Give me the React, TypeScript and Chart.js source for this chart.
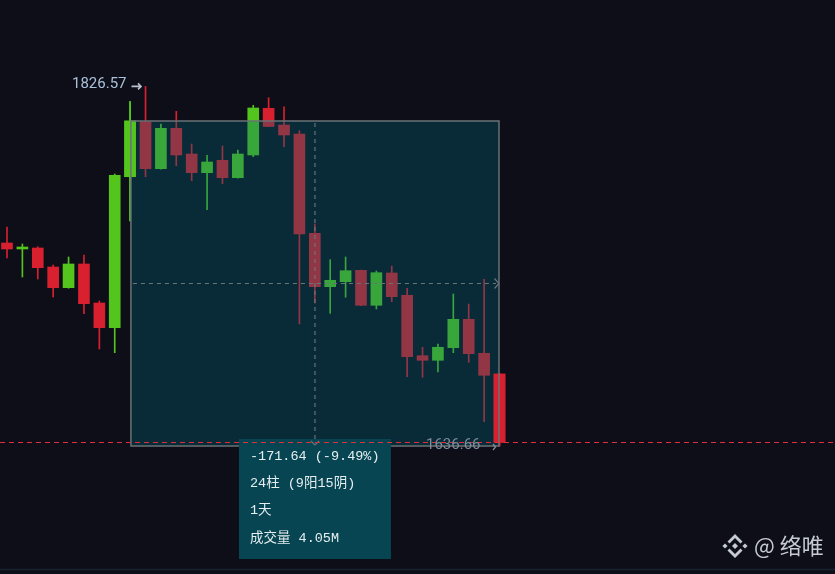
import React, { useEffect, useRef } from "react";
import { Chart, registerables } from "chart.js";

Chart.register(...registerables);

// OHLC values (daily candles)
const opens = [1743.87, 1740.7, 1741.23, 1731.19, 1720.26, 1732.78, 1712.18, 1699.14, 1778.88, 1807.93, 1783.11, 1804.44, 1790.87, 1781.0, 1787.54, 1778.36, 1790.34, 1815.01, 1806.19, 1801.43, 1748.99, 1720.79, 1723.43, 1729.45, 1710.97, 1728.03, 1716.25, 1684.35, 1681.92, 1688.58, 1703.57, 1685.62, 1674.69];
const highs = [1752.32, 1743.34, 1741.92, 1732.25, 1736.48, 1737.53, 1713.24, 1780.31, 1818.6, 1826.57, 1806.72, 1813.42, 1796.15, 1790.19, 1795.1, 1792.98, 1816.59, 1820.61, 1815.8, 1803.18, 1753.9, 1735.05, 1736.48, 1729.6, 1729.08, 1731.72, 1719.95, 1688.79, 1690.53, 1716.94, 1711.65, 1724.7, 1674.9];
const lows = [1735.95, 1725.91, 1724.86, 1715.35, 1720.0, 1706.53, 1687.89, 1685.93, 1755.49, 1778.88, 1782.9, 1784.69, 1776.77, 1761.46, 1775.19, 1778.1, 1789.45, 1805.3, 1794.73, 1701.09, 1712.18, 1706.74, 1715.19, 1710.8, 1709.01, 1712.87, 1673.26, 1672.94, 1675.74, 1685.93, 1680.86, 1649.49, 1636.66];
const closes = [1740.7, 1741.76, 1730.83, 1720.26, 1732.78, 1711.81, 1699.14, 1779.62, 1808.3, 1783.11, 1804.44, 1790.34, 1781.0, 1786.65, 1778.36, 1790.87, 1815.17, 1805.4, 1800.91, 1748.62, 1720.79, 1724.17, 1729.24, 1710.97, 1728.18, 1715.51, 1683.82, 1681.92, 1688.79, 1703.57, 1685.41, 1674.0, 1638.51];

// measurement (price range tool)
const measureStartIndex = 8;
const measureEndIndex = 32;
const measureTop = 1808.3;
const measureBottom = 1636.66;
const highestLabel = "1826.57";
const lowestLabel = "1636.66";
const tooltipLines = ["-171.64 (-9.49%)", "24柱 (9阳15阴)", "1天", "成交量 4.05M"];
const watermarkText = "@ 络唯";

// visible ranges
const xMin = -0.4548;
const xMax = 53.8;
const yMin = 1569.06;
const yMax = 1872.2;

const UP = "#53c51d";
const DOWN = "#d8202f";
const BG = "#0e0e19";

export default function App() {
  const ref = useRef<HTMLCanvasElement | null>(null);

  useEffect(() => {
    if (!ref.current) return;
    const colors = opens.map((o, i) => (closes[i] >= o ? UP : DOWN));

    const overlay = {
      id: "overlay",
      beforeDraw(chart: any) {
        const ctx = chart.ctx;
        ctx.save();
        ctx.fillStyle = BG;
        ctx.fillRect(0, 0, chart.width, chart.height);
        ctx.restore();
      },
      afterDatasetsDraw(chart: any) {
        const ctx = chart.ctx;
        const xs = chart.scales.x;
        const ys = chart.scales.y;
        const x0 = xs.getPixelForValue(measureStartIndex) + 0.8;
        const x1 = xs.getPixelForValue(measureEndIndex) - 0.5;
        const yt = ys.getPixelForValue(measureTop);
        const yb = ys.getPixelForValue(measureBottom);
        const xm = (x0 + x1) / 2;
        const ym = (yt + yb) / 2;
        ctx.save();
        // translucent box
        ctx.fillStyle = "rgba(0,103,121,0.32)";
        ctx.fillRect(x0, yt, x1 - x0, yb - yt);
        // endpoint candles drawn bright again
        for (const di of [1, 0]) {
          const meta = chart.getDatasetMeta(di);
          for (const idx of [measureStartIndex, measureEndIndex]) {
            const el = meta.data[idx];
            if (el) el.draw(ctx);
          }
        }
        // box border
        ctx.strokeStyle = "#6a7276";
        ctx.lineWidth = 1.5;
        ctx.strokeRect(x0, yt, x1 - x0, yb - yt);
        // dashed middle lines
        ctx.strokeStyle = "#6a7378";
        ctx.lineWidth = 1.2;
        ctx.setLineDash([4, 4]);
        ctx.beginPath();
        ctx.moveTo(x0 + 2, ym);
        ctx.lineTo(x1 - 3, ym);
        ctx.moveTo(xm, yt + 2);
        ctx.lineTo(xm, yb - 2);
        ctx.stroke();
        ctx.setLineDash([]);
        ctx.beginPath();
        ctx.moveTo(x1 - 4.5, ym - 5);
        ctx.lineTo(x1, ym);
        ctx.lineTo(x1 - 4.5, ym + 5);
        ctx.stroke();

        // tooltip panel
        const tw = 152;
        const tx = xm - 76;
        const ty = yb - 7;
        ctx.fillStyle = "#064551";
        ctx.fillRect(tx, ty, tw, 120);
        ctx.fillStyle = "#e6eef0";
        ctx.font = '13.5px "Liberation Mono", "Noto Sans CJK SC", monospace';
        ctx.textBaseline = "middle";
        ctx.textAlign = "left";
        tooltipLines.forEach((t, i) => {
          ctx.fillText(t, tx + 11, ty + 17 + i * 27.4);
        });

        // vertical arrow head
        ctx.strokeStyle = "#6a7378";
        ctx.lineWidth = 1.2;
        ctx.beginPath();
        ctx.moveTo(xm - 4, yb - 5);
        ctx.lineTo(xm, yb - 1);
        ctx.lineTo(xm + 4, yb - 5);
        ctx.stroke();

        // current price line
        const yc = ys.getPixelForValue(closes[closes.length - 1]);
        ctx.strokeStyle = "#e3303c";
        ctx.lineWidth = 1;
        ctx.setLineDash([5, 4]);
        ctx.beginPath();
        ctx.moveTo(0, yc);
        ctx.lineTo(chart.width, yc);
        ctx.stroke();
        ctx.setLineDash([]);

        // highest label
        const hi = Math.max(...highs);
        const hiIdx = highs.indexOf(hi);
        const yh = ys.getPixelForValue(hi);
        const xh = xs.getPixelForValue(hiIdx);
        ctx.font = '15px Roboto, "Noto Sans", sans-serif';
        ctx.fillStyle = "#a9c1d9";
        ctx.textAlign = "right";
        ctx.fillText(highestLabel, xh - 19, yh - 2);
        ctx.strokeStyle = "#b8c2cc";
        ctx.lineWidth = 1.6;
        ctx.beginPath();
        ctx.moveTo(xh - 14, yh);
        ctx.lineTo(xh - 4.5, yh);
        ctx.moveTo(xh - 7.5, yh - 3);
        ctx.lineTo(xh - 4.5, yh);
        ctx.lineTo(xh - 7.5, yh + 3);
        ctx.stroke();

        // lowest label
        const lo = Math.min(...lows);
        const loIdx = lows.indexOf(lo);
        const yl = ys.getPixelForValue(lo);
        const xl = xs.getPixelForValue(loIdx);
        ctx.fillStyle = "#7d8c9b";
        ctx.fillText(lowestLabel, xl - 19, yl - 1);
        ctx.strokeStyle = "#7d8c9b";
        ctx.lineWidth = 1.3;
        ctx.beginPath();
        ctx.moveTo(xl - 6.5, yl - 2);
        ctx.lineTo(xl - 4, yl + 1);
        ctx.lineTo(xl - 6.5, yl + 4);
        ctx.stroke();

        // bottom border line
        ctx.strokeStyle = "#1b2030";
        ctx.lineWidth = 1.5;
        ctx.beginPath();
        ctx.moveTo(0, chart.height - 4.5);
        ctx.lineTo(chart.width, chart.height - 4.5);
        ctx.stroke();

        // watermark logo
        const cx = 735;
        const cy = 546;
        ctx.fillStyle = "#c6cad1";
        const diamond = (x: number, y: number, r: number) => {
          ctx.beginPath();
          ctx.moveTo(x, y - r);
          ctx.lineTo(x + r, y);
          ctx.lineTo(x, y + r);
          ctx.lineTo(x - r, y);
          ctx.closePath();
          ctx.fill();
        };
        diamond(cx, cy, 3);
        diamond(cx - 10, cy, 2.6);
        diamond(cx + 10, cy, 2.6);
        for (const s of [-1, 1]) {
          ctx.beginPath();
          ctx.moveTo(cx - 7.5, cy + s * 4.5);
          ctx.lineTo(cx, cy + s * 12);
          ctx.lineTo(cx + 7.5, cy + s * 4.5);
          ctx.lineTo(cx + 5.5, cy + s * 2.5);
          ctx.lineTo(cx, cy + s * 8);
          ctx.lineTo(cx - 5.5, cy + s * 2.5);
          ctx.closePath();
          ctx.fill();
        }
        ctx.font = '22px "Noto Sans CJK SC", "Noto Sans", sans-serif';
        ctx.textAlign = "left";
        ctx.textBaseline = "middle";
        ctx.fillText(watermarkText, 754, cy);
        ctx.restore();
      },
    };

    const chart = new Chart(ref.current, {
      type: "bar",
      data: {
        datasets: [
          {
            label: "body",
            data: opens.map((o, i) => ({ x: i, y: [o, closes[i]] })) as any,
            backgroundColor: colors,
            borderWidth: 0,
            barThickness: 11,
            grouped: false,
            order: 0,
          } as any,
          {
            label: "wick",
            data: lows.map((l, i) => ({ x: i, y: [l, highs[i]] })) as any,
            backgroundColor: colors,
            borderWidth: 0,
            barThickness: 1,
            grouped: false,
            order: 1,
          } as any,
        ],
      },
      options: {
        animation: false,
        responsive: true,
        maintainAspectRatio: false,
        layout: { padding: 0 },
        plugins: { legend: { display: false }, tooltip: { enabled: false } },
        events: [],
        scales: {
          x: { type: "linear", display: false, min: xMin, max: xMax, offset: false },
          y: { type: "linear", display: false, min: yMin, max: yMax },
        },
      },
      plugins: [overlay],
    });
    return () => chart.destroy();
  }, []);

  return (
    <div style={{ position: "fixed", left: 0, top: 0, width: 835, height: 574, background: BG }}>
      <canvas ref={ref} />
    </div>
  );
}
